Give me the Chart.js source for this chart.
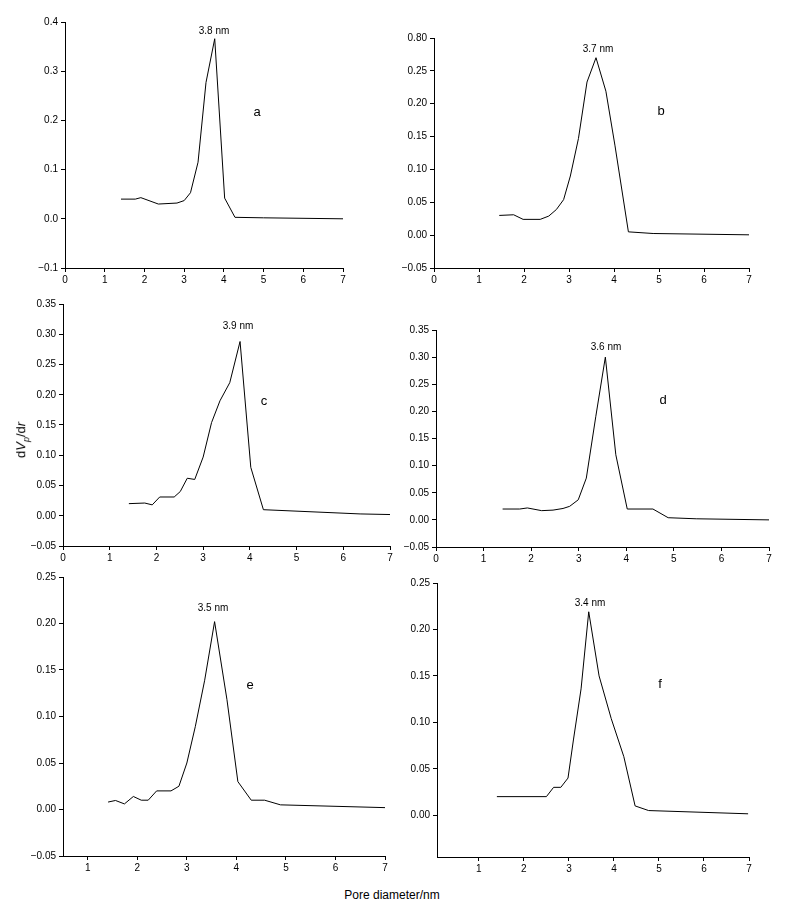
<!DOCTYPE html>
<html>
<head>
<meta charset="utf-8">
<script src="https://cdn.jsdelivr.net/npm/chart.js@4.4.0/dist/chart.umd.min.js"></script>
<style>
  body { margin: 0; background: #fff; font-family: "Liberation Sans", Arial, sans-serif; }
  #page { position: relative; width: 786px; height: 916px; }
  .box { position: absolute; }
  .txt { position: absolute; font-size: 10px; color: #000; transform: translate(-50%, -50%); white-space: nowrap; }
  .letter { font-size: 13px; }
</style>
</head>
<body>
<div id="page"></div>
<script>
// pore diameter (nm) and dVp/dr for each sample
const aX = [1.41, 1.77, 1.91, 2.35, 2.82, 3.0, 3.16, 3.35, 3.55, 3.77, 4.02, 4.28, 5.0, 7.0];
const aY = [0.040, 0.040, 0.043, 0.030, 0.032, 0.037, 0.053, 0.115, 0.277, 0.366, 0.042, 0.003, 0.002, 0.0];

const bX = [1.45, 1.77, 1.98, 2.36, 2.55, 2.72, 2.88, 3.03, 3.21, 3.40, 3.60, 3.82, 4.02, 4.32, 4.87, 7.0];
const bY = [0.030, 0.031, 0.024, 0.024, 0.029, 0.039, 0.054, 0.090, 0.147, 0.233, 0.270, 0.219, 0.137, 0.005, 0.0025, 0.0005];

const cX = [1.41, 1.75, 1.91, 2.07, 2.38, 2.51, 2.66, 2.82, 3.0, 3.18, 3.36, 3.57, 3.79, 4.02, 4.29, 6.36, 7.0];
const cY = [0.020, 0.021, 0.018, 0.031, 0.031, 0.040, 0.062, 0.060, 0.097, 0.154, 0.190, 0.220, 0.288, 0.080, 0.010, 0.003, 0.002];

const dX = [1.40, 1.76, 1.92, 2.22, 2.46, 2.67, 2.81, 2.99, 3.16, 3.36, 3.56, 3.78, 4.02, 4.56, 4.88, 5.47, 7.0];
const dY = [0.020, 0.020, 0.022, 0.017, 0.018, 0.021, 0.025, 0.037, 0.077, 0.191, 0.300, 0.120, 0.020, 0.020, 0.004, 0.002, 0.0];

const eX = [1.41, 1.56, 1.74, 1.92, 2.08, 2.22, 2.39, 2.68, 2.84, 3.0, 3.17, 3.36, 3.56, 3.81, 4.03, 4.30, 4.57, 4.89, 7.0];
const eY = [0.008, 0.0097, 0.006, 0.014, 0.010, 0.010, 0.020, 0.020, 0.025, 0.050, 0.089, 0.139, 0.202, 0.118, 0.030, 0.010, 0.010, 0.005, 0.002];

const fX = [1.40, 2.50, 2.66, 2.82, 2.98, 3.10, 3.27, 3.44, 3.67, 3.94, 4.22, 4.47, 4.77, 6.98];
const fY = [0.020, 0.020, 0.030, 0.030, 0.040, 0.081, 0.136, 0.219, 0.150, 0.104, 0.063, 0.010, 0.005, 0.0015];

const xTicks = [0, 1, 2, 3, 4, 5, 6, 7];
const yTicksA = [-0.1, 0, 0.1, 0.2, 0.3, 0.4];
const yTicksB = [-0.05, 0, 0.05, 0.10, 0.15, 0.20, 0.25, 0.30];
const yTicksCD = [-0.05, 0, 0.05, 0.10, 0.15, 0.20, 0.25, 0.30, 0.35];
const yTicksE = [-0.05, 0, 0.05, 0.10, 0.15, 0.20, 0.25];
const yTicksF = [0, 0.05, 0.10, 0.15, 0.20, 0.25];

// panel layout: plot-area edges in page pixels
const panels = [
  { x: aX, y: aY, L: 65, T: 22, R: 343, B: 268, xmin: 0, ymin: -0.1, ymax: 0.4, yt: yTicksA, dec: 1 },
  { x: bX, y: bY, L: 434, T: 38, R: 749, B: 268, xmin: 0, ymin: -0.05, ymax: 0.30, yt: yTicksB, dec: 2, topLabel: '0.80' },
  { x: cX, y: cY, L: 63, T: 304, R: 390, B: 546, xmin: 0, ymin: -0.05, ymax: 0.35, yt: yTicksCD, dec: 2 },
  { x: dX, y: dY, L: 436, T: 330, R: 769, B: 547, xmin: 0, ymin: -0.05, ymax: 0.35, yt: yTicksCD, dec: 2 },
  { x: eX, y: eY, L: 63, T: 577, R: 385, B: 856, xmin: 0.5, ymin: -0.05, ymax: 0.25, yt: yTicksE, dec: 2 },
  { x: fX, y: fY, L: 437, T: 583, R: 749, B: 857, xmin: 0.07, ymin: -0.045, ymax: 0.25, yt: yTicksF, dec: 2 }
];

const labels = [
  ['3.8 nm', 214, 30], ['a', 257, 111, 1],
  ['3.7 nm', 598, 48], ['b', 661, 110, 1],
  ['3.9 nm', 238, 325], ['c', 264, 400, 1],
  ['3.6 nm', 606, 346], ['d', 663, 399, 1],
  ['3.5 nm', 213, 607], ['e', 250, 684, 1],
  ['3.4 nm', 590, 602], ['f', 660, 683, 1]
];

const page = document.getElementById('page');

panels.forEach(p => {
  const box = document.createElement('div');
  box.className = 'box';
  box.style.left = (p.L - 40) + 'px';
  box.style.top = (p.T - 10) + 'px';
  box.style.width = (p.R - p.L + 50) + 'px';
  box.style.height = (p.B - p.T + 30) + 'px';
  const cv = document.createElement('canvas');
  box.appendChild(cv);
  page.appendChild(box);

  new Chart(cv, {
    type: 'line',
    data: {
      datasets: [{
        data: p.x.map((v, i) => ({ x: v, y: p.y[i] })),
        borderColor: '#000',
        borderWidth: 1,
        pointRadius: 0,
        tension: 0,
        fill: false
      }]
    },
    options: {
      responsive: true,
      maintainAspectRatio: false,
      animation: false,
      layout: { padding: { top: 10, right: 10 } },
      plugins: { legend: { display: false }, tooltip: { enabled: false } },
      scales: {
        x: {
          type: 'linear', min: p.xmin, max: 7,
          afterBuildTicks: s => { s.ticks = xTicks.filter(v => v >= p.xmin).map(v => ({ value: v })); },
          afterFit: s => { s.height = 20; },
          grid: { drawOnChartArea: false, color: '#000', tickLength: 4 },
          border: { color: '#000' },
          ticks: { color: '#000', font: { size: 10, family: 'Liberation Sans' }, padding: 2, maxRotation: 0 }
        },
        y: {
          min: p.ymin, max: p.ymax,
          afterBuildTicks: s => { s.ticks = p.yt.map(v => ({ value: v })); },
          afterFit: s => { s.width = 40; },
          grid: { drawOnChartArea: false, color: '#000', tickLength: 4 },
          border: { color: '#000' },
          ticks: {
            color: '#000', font: { size: 10, family: 'Liberation Sans' }, padding: 3,
            callback: v => {
              if (p.topLabel && Math.abs(v - p.ymax) < 1e-9) return p.topLabel;
              const r = Math.round(v * 100) / 100;
              return (r < 0 ? '\u2212' : '') + Math.abs(r).toFixed(p.dec);
            }
          }
        }
      }
    }
  });
});

labels.forEach(l => {
  const d = document.createElement('div');
  d.className = 'txt' + (l[3] ? ' letter' : '');
  d.textContent = l[0];
  d.style.left = l[1] + 'px';
  d.style.top = l[2] + 'px';
  page.appendChild(d);
});

// axis titles
const yt = document.createElement('div');
yt.className = 'txt';
yt.style.cssText = 'left:22px;top:440px;font-size:13px;transform:translate(-50%,-50%) rotate(-90deg);';
yt.innerHTML = 'd<i>V</i><sub style="font-size:9px"><i>p</i></sub>/d<i>r</i>';
page.appendChild(yt);

const xt = document.createElement('div');
xt.className = 'txt';
xt.style.cssText = 'left:392px;top:895px;font-size:12px;';
xt.textContent = 'Pore diameter/nm';
page.appendChild(xt);
</script>
</body>
</html>
